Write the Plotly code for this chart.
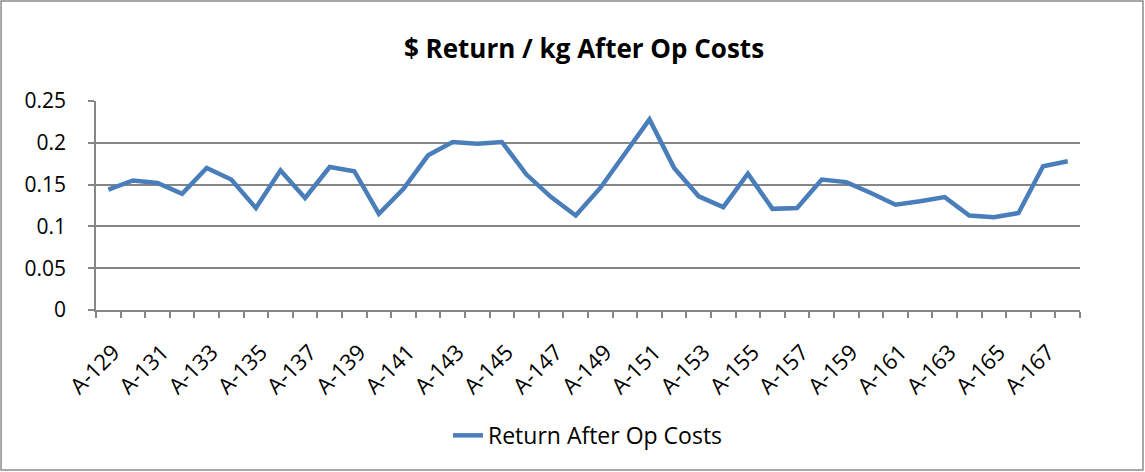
import plotly.graph_objects as go

categories = [f"A-{n}" for n in range(129, 169)]
values = [0.144, 0.155, 0.152, 0.139, 0.170, 0.156, 0.122, 0.167, 0.134, 0.171,
          0.166, 0.115, 0.145, 0.185, 0.201, 0.199, 0.201, 0.162, 0.135, 0.113,
          0.146, 0.187, 0.228, 0.170, 0.136, 0.123, 0.163, 0.121, 0.122, 0.156,
          0.153, 0.140, 0.126, 0.130, 0.135, 0.113, 0.111, 0.116, 0.172, 0.178]
series_name = "Return After Op Costs"
title = "$ Return / kg After Op Costs"
y_ticks = [0, 0.05, 0.1, 0.15, 0.2, 0.25]
y_ticklabels = ["0", "0.05", "0.1", "0.15", "0.2", "0.25"]

idx = list(range(len(categories)))
label_idx = idx[::2]
label_text = categories[::2]

FONT = "'Open Sans', sans-serif"
GRID = "#868686"

fig = go.Figure()
fig.add_trace(go.Scatter(
    x=idx, y=values, mode="lines", name=series_name,
    line=dict(color="#4A7EBB", width=4.5),
    showlegend=True,
))

fig.update_layout(
    width=1145, height=472,
    paper_bgcolor="white", plot_bgcolor="white",
    margin=dict(l=96, r=65, t=101, b=162, autoexpand=False),
    title=dict(text="<b>" + title + "</b>", x=584 / 1145, xanchor="center",
               y=1 - 49 / 472, yanchor="middle",
               font=dict(family=FONT, size=26, color="black")),
    font=dict(family=FONT, color="black"),
    showlegend=True,
    legend=dict(orientation="h", x=0.5, xanchor="center", y=-0.6, yanchor="middle",
                font=dict(family=FONT, size=23, color="black"),
                bgcolor="rgba(0,0,0,0)"),
    xaxis=dict(
        automargin=False,
        range=[-0.5, len(categories) - 0.5],
        tickmode="array", tickvals=label_idx, ticktext=label_text,
        tickangle=-45, tickfont=dict(family=FONT, size=22, color="black"),
        ticks="", showgrid=False, zeroline=False,
        ticklabelstandoff=19, ticklabelshift=5,
        showline=True, linecolor=GRID, linewidth=1.5,
        minor=dict(tickmode="array", tickvals=[i - 0.5 for i in range(len(categories) + 1)],
                   ticks="outside", ticklen=6, tickcolor=GRID, tickwidth=1.5, showgrid=False),
    ),
    yaxis=dict(
        automargin=False,
        range=[0, 0.25], tickmode="array", tickvals=y_ticks, ticktext=y_ticklabels,
        tickfont=dict(family=FONT, size=21, color="black"),
        ticks="outside", ticklen=6, tickcolor=GRID, tickwidth=1.5, ticklabelstandoff=18,
        showgrid=True, gridcolor=GRID, gridwidth=1.5, zeroline=False,
        showline=True, linecolor=GRID, linewidth=1.5,
    ),
    shapes=[dict(type="rect", xref="paper", yref="paper",
                 x0=-0.0965, x1=1.064, y0=-0.766, y1=1.478,
                 line=dict(color="#8C8C8C", width=1.5), fillcolor="rgba(0,0,0,0)",
                 layer="below")],
)

fig.write_html("out.html", config={"displayModeBar": False},
               post_script="document.body.style.margin='0';")
